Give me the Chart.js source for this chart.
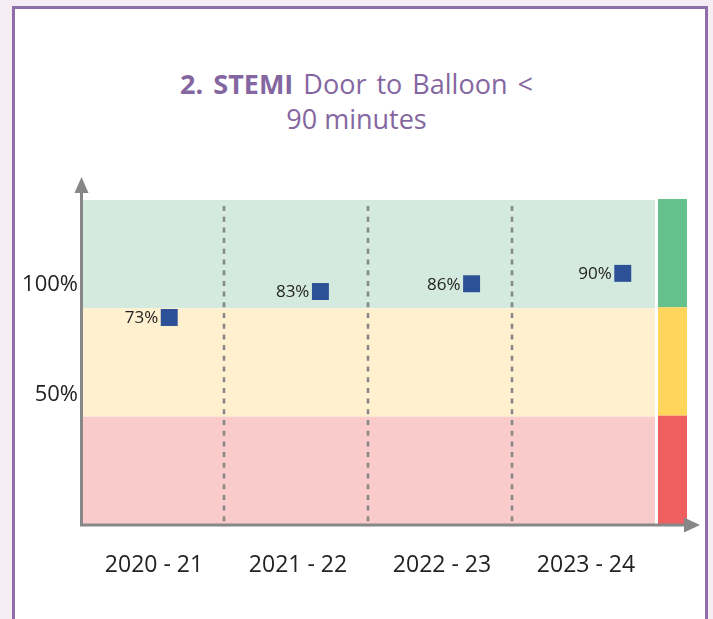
<!DOCTYPE html>
<html>
<head>
<meta charset="utf-8">
<script src="https://cdn.jsdelivr.net/npm/chart.js@4.4.0/dist/chart.umd.min.js"></script>
<style>
  html, body { margin: 0; padding: 0; }
  body { width: 713px; height: 619px; background: #f6ecf4; position: relative; overflow: hidden; font-family: "Open Sans", sans-serif; }
  #frame { position: absolute; left: 12px; top: 6px; width: 690px; height: 640px; border: 3px solid #8d70a9; background: #fff; }
  #title { position: absolute; left: 0; width: 713px; top: 66px; text-align: center; color: #8466a1; font-size: 27px; line-height: 35px; }
  #title .l1 { word-spacing: 3px; }
  canvas { position: absolute; left: 0; top: 0; }
</style>
</head>
<body>
<div id="frame"></div>
<div id="title"><span class="l1"><b>2. STEMI</b> Door to Balloon &lt;</span><br>90 minutes</div>
<canvas id="chart" width="713" height="619"></canvas>
<script>
const categories = ["2020 - 21", "2021 - 22", "2022 - 23", "2023 - 24"];
const stemiValues = [73, 83, 86, 90];
const tickValues = [50, 100];
const bandColors = ["#d5eadf", "#fff1cf", "#f9cbcb"];
const stripColors = ["#65c18c", "#ffd65b", "#f05f5f"];

const axisColor = "#878787";

// coloured bands behind the plot and the key strip on the right
const bandsPlugin = {
  id: "bands",
  beforeDraw(chart) {
    const { ctx, chartArea: a } = chart;
    const h = (a.bottom - a.top) / 3;
    ctx.save();
    bandColors.forEach((c, i) => {
      ctx.fillStyle = c;
      ctx.fillRect(a.left + 1, a.top + i * h, a.right - a.left - 4, h);
    });
    stripColors.forEach((c, i) => {
      ctx.fillStyle = c;
      ctx.fillRect(a.right, a.top - 1 + i * h, 29, h + (i == 2 ? 1 : 0));
    });
    ctx.restore();
  },
  beforeDatasetsDraw(chart) {
    const { ctx, chartArea: a } = chart;
    const xs = chart.scales.x;
    ctx.save();
    // dashed dividers between years
    ctx.strokeStyle = axisColor;
    ctx.lineWidth = 2.6;
    ctx.setLineDash([5, 5.7]);
    for (let i = 1; i < categories.length; i++) {
      const x = Math.round((xs.getPixelForValue(i - 1) + xs.getPixelForValue(i)) / 2) - 2;
      ctx.beginPath();
      ctx.moveTo(x, a.top + 6);
      ctx.lineTo(x, a.bottom - 3);
      ctx.stroke();
    }
    ctx.setLineDash([]);
    // axes with arrows
    ctx.lineWidth = 3;
    ctx.beginPath();
    ctx.moveTo(a.left - 0.5, a.bottom + 1);
    ctx.lineTo(a.left - 0.5, a.top - 8);
    ctx.moveTo(a.left - 2, a.bottom);
    ctx.lineTo(a.right + 28, a.bottom);
    ctx.stroke();
    ctx.fillStyle = axisColor;
    ctx.beginPath();
    ctx.moveTo(a.left - 0.5, a.top - 23);
    ctx.lineTo(a.left - 7.5, a.top - 7);
    ctx.lineTo(a.left + 6.5, a.top - 7);
    ctx.closePath();
    ctx.fill();
    ctx.beginPath();
    ctx.moveTo(a.right + 42, a.bottom);
    ctx.lineTo(a.right + 26, a.bottom - 7.5);
    ctx.lineTo(a.right + 26, a.bottom + 7.5);
    ctx.closePath();
    ctx.fill();
    ctx.restore();
  },
  afterDatasetsDraw(chart) {
    const { ctx } = chart;
    const meta = chart.getDatasetMeta(0);
    ctx.save();
    ctx.fillStyle = "#222";
    ctx.font = "17px 'Open Sans'";
    ctx.textAlign = "right";
    ctx.textBaseline = "middle";
    meta.data.forEach((pt, i) => {
      ctx.fillText(stemiValues[i] + "%", pt.x - 11, pt.y + 1);
    });
    ctx.restore();
  }
};

new Chart(document.getElementById("chart"), {
  type: "scatter",
  data: {
    labels: categories,
    datasets: [{
      data: stemiValues.map((v, i) => ({ x: i, y: v })),
      xAxisID: "xp",
      yAxisID: "yp",
      pointStyle: "rect",
      pointRadius: 12,
      pointHoverRadius: 12,
      backgroundColor: "#2c5197",
      borderWidth: 0
    }]
  },
  options: {
    responsive: false,
    devicePixelRatio: 1,
    animation: false,
    layout: { padding: { left: 12, right: 55, top: 200, bottom: 0 } },
    plugins: { legend: { display: false }, tooltip: { enabled: false } },
    scales: {
      x: {
        type: "category",
        labels: categories,
        offset: true,
        grid: { display: false, drawTicks: false },
        border: { display: false },
        ticks: { color: "#222", font: { family: "Open Sans", size: 23 }, padding: 27, maxRotation: 0, autoSkip: false },
        afterFit: (s) => { s.height = 94; }
      },
      y: {
        type: "linear",
        position: "left",
        min: -9.09,
        max: 138.64,
        grid: { display: false, drawTicks: false },
        border: { display: false },
        ticks: { color: "#222", font: { family: "Open Sans", size: 22 }, padding: 4, callback: (v) => v + "%" },
        afterBuildTicks: (s) => { s.ticks = tickValues.map((v) => ({ value: v })); },
        afterFit: (s) => { s.width = 70; }
      },
      xp: { type: "linear", display: false, min: -0.577, max: 3.233 },
      yp: { type: "linear", display: false, min: -6.97, max: 118.27 }
    }
  },
  plugins: [bandsPlugin]
});
</script>
</body>
</html>
